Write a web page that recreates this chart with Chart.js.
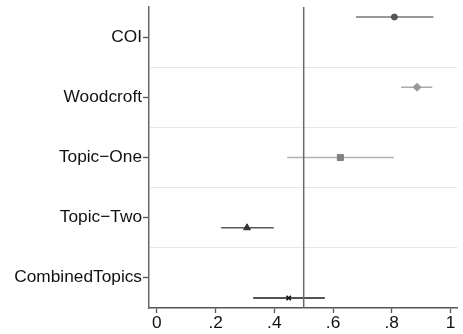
<!DOCTYPE html>
<html>
<head>
<meta charset="utf-8">
<script src="https://cdn.jsdelivr.net/npm/chart.js@4.4.1/dist/chart.umd.min.js"></script>
<style>
html,body{margin:0;padding:0;background:#fff;}
#wrap{width:463px;height:334px;position:relative;}
</style>
</head>
<body>
<div id="wrap"><canvas id="c" width="463" height="334"></canvas></div>
<script>
// ---- data ----
const categories = ["COI", "Woodcroft", "Topic\u2212One", "Topic\u2212Two", "CombinedTopics"];
const estimates = [0.809, 0.886, 0.625, 0.307, 0.449];
const ciLow = [0.678, 0.832, 0.444, 0.219, 0.328];
const ciHigh = [0.942, 0.938, 0.807, 0.398, 0.572];
const pointRows = [1, 2, 3, 4, 5];            // vertical position of each estimate
const labelRows = [1.295, 2.149, 3.0, 3.854, 4.708]; // vertical position of each category label
const gridRows = [1.72, 2.573, 3.427, 4.281];  // separator lines between categories
const xTickValues = [0, 0.2, 0.4, 0.6, 0.8, 1];
const xTickLabels = ["0", ".2", ".4", ".6", ".8", "1"];
const referenceX = 0.5;

// ---- styles ----
const markerStyles = ["circle", "rectRot", "rect", "triangle", "crossRot"];
const markerColors = ["#555555", "#999999", "#808080", "#333333", "#111111"];
const lineColors = ["#777777", "#aaaaaa", "#b4b4b4", "#5a5a5a", "#1a1a1a"];
const markerRadius = [3, 4, 4.3, 4, 3.2];

const Y_MIN = 0.8577, Y_MAX = 5.1423;
const X_MIN = -0.0269, X_MAX = 1.0236;

const datasets = [];
// reference line
datasets.push({
  type: 'line',
  data: [{x: referenceX, y: Y_MIN}, {x: referenceX, y: Y_MAX}],
  borderColor: '#6a6a6a', borderWidth: 1.5, pointRadius: 0, fill: false
});
// markers
categories.forEach((c, i) => {
  datasets.push({
    type: 'scatter',
    data: [{x: estimates[i], y: pointRows[i]}],
    pointStyle: markerStyles[i],
    pointRadius: markerRadius[i],
    backgroundColor: markerColors[i],
    borderColor: markerColors[i],
    pointBorderWidth: markerStyles[i] === 'crossRot' ? 1.6 : 1
  });
});
// CI lines
categories.forEach((c, i) => {
  datasets.push({
    type: 'line',
    data: [{x: ciLow[i], y: pointRows[i]}, {x: ciHigh[i], y: pointRows[i]}],
    borderColor: lineColors[i], borderWidth: 1.5, pointRadius: 0, fill: false
  });
});

function isLabelTick(v) { return labelRows.some(r => Math.abs(r - v) < 1e-6); }

new Chart(document.getElementById('c'), {
  type: 'scatter',
  data: { datasets },
  options: {
    responsive: false,
    animation: false,
    layout: { padding: { top: 7, right: 2, left: 0, bottom: 0 } },
    plugins: { legend: { display: false }, tooltip: { enabled: false } },
    scales: {
      x: {
        type: 'linear', min: X_MIN, max: X_MAX,
        afterBuildTicks: s => { s.ticks = xTickValues.map(v => ({value: v})); },
        afterFit: s => { s.height = 26; s.paddingLeft = 0; s.paddingRight = 0; },
        ticks: {
          autoSkip: false, maxRotation: 0, padding: 0,
          color: '#111', font: { family: 'Liberation Sans', size: 17.3 },
          callback: (v) => { const k = xTickValues.findIndex(t => Math.abs(t - v) < 1e-9); return k >= 0 ? xTickLabels[k] : ''; }
        },
        grid: { drawOnChartArea: false, drawTicks: true, tickLength: 5, tickColor: '#555', tickWidth: 1.3 },
        border: { display: true, color: '#555', width: 1.5 }
      },
      y: {
        type: 'linear', min: Y_MIN, max: Y_MAX, reverse: true,
        afterBuildTicks: s => {
          const all = labelRows.concat(gridRows).sort((a, b) => a - b);
          s.ticks = all.map(v => ({value: v}));
        },
        afterFit: s => { s.width = 149; s.paddingTop = 0; s.paddingBottom = 0; },
        ticks: {
          autoSkip: false, padding: 1,
          color: '#111', font: { family: 'Liberation Sans', size: 17.3 },
          callback: (v) => { const k = labelRows.findIndex(r => Math.abs(r - v) < 1e-6); return k >= 0 ? categories[k] : ''; }
        },
        grid: {
          drawOnChartArea: true, drawTicks: true, tickLength: 6, lineWidth: 1, tickWidth: 1.3,
          color: ctx => (ctx.tick && isLabelTick(ctx.tick.value)) ? 'rgba(0,0,0,0)' : '#e6e6e6',
          tickColor: ctx => (ctx.tick && isLabelTick(ctx.tick.value)) ? '#555' : 'rgba(0,0,0,0)'
        },
        border: { display: true, color: '#666', width: 1.5 }
      }
    }
  }
});
</script>
</body>
</html>
